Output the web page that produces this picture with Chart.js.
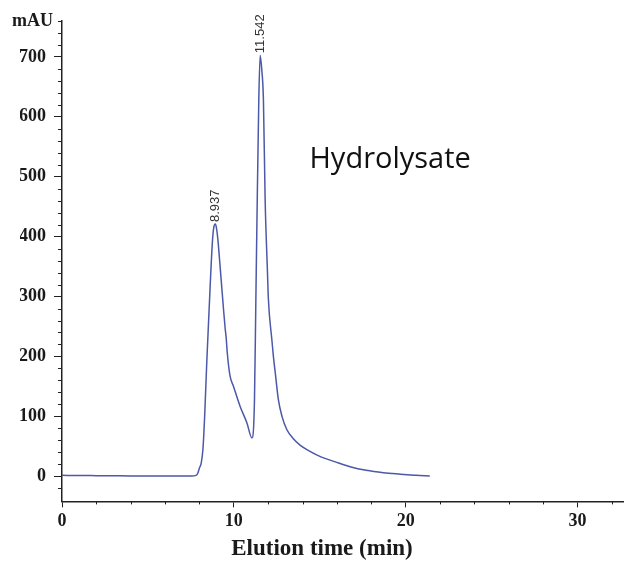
<!DOCTYPE html>
<html lang="en">
<head>
  <meta charset="UTF-8">
  <title>Hydrolysate chromatogram</title>
  <script src="https://cdn.jsdelivr.net/npm/chart.js"></script>
  <style>
    html, body { margin: 0; padding: 0; background: #fff; }
    .chart-container { width: 624px; height: 563px; }
  </style>
</head>
<body>

  <div class="chart-container">
    <canvas id="chromChart"></canvas>
  </div>

  <script>
    // retention time (min) and detector signal (mAU)
    const times = [0, 1, 2, 3, 4, 5, 6, 7, 7.5, 7.8, 7.9, 8.0, 8.1, 8.2, 8.3, 8.43, 8.62, 8.76, 8.85, 8.93,
      9.0, 9.07, 9.2, 9.4, 9.5, 9.55, 9.62, 9.78, 9.98, 10.36, 10.76, 11.05, 11.2, 11.28, 11.34, 11.45,
      11.53, 11.62, 11.72, 11.82, 11.95, 12.01, 12.21, 12.3, 12.4, 12.59, 12.8, 13.08, 13.45, 13.85,
      14.4, 15.1, 15.9, 16.76, 17.7, 18.7, 19.7, 20.6, 21.4];
    const absorbance = [1.5, 1.2, 1, 0.8, 0.6, 0.5, 0.4, 0.3, 0.5, 1.5, 5, 14, 22, 45, 100, 195, 317, 395, 418, 421,
      412, 395, 350, 278, 245, 232, 205, 167, 150, 117, 89, 64, 128, 295, 420, 628,
      703, 680, 628, 461, 345, 295, 228, 200, 175, 128, 100, 78, 63, 52,
      42, 32, 24, 16, 10, 6, 3.5, 1.5, 0.5];

    const xTicks = [0, 10, 20, 30];
    const yTicks = [0, 100, 200, 300, 400, 500, 600, 700];

    const peakTimes = [8.937, 11.542];
    const peakHeights = [421, 703];
    const peakLabels = ['8.937', '11.542'];

    const yUnitLabel = 'mAU';
    const sampleName = 'Hydrolysate';
    const xTitle = 'Elution time (min)';

    const axisColor = '#222';
    const traceColor = '#4c58a8';
    const serif = 'Liberation Serif, Times New Roman, serif';

    // minor ticks, unit label, peak labels and sample name
    const extras = {
      id: 'extras',
      afterDraw(chart) {
        const ctx = chart.ctx;
        const xs = chart.scales.x;
        const ys = chart.scales.y;
        ctx.save();
        ctx.strokeStyle = axisColor;
        ctx.lineWidth = 1;

        for (let v = -20; v <= ys.max; v += 20) {
          if (v % 100 === 0) continue;
          const py = Math.round(ys.getPixelForValue(v)) + 0.5;
          ctx.beginPath();
          ctx.moveTo(ys.right - 4, py);
          ctx.lineTo(ys.right, py);
          ctx.stroke();
        }
        for (let t = 2; t <= xs.max; t += 2) {
          if (t % 10 === 0) continue;
          const px = Math.round(xs.getPixelForValue(t)) + 0.5;
          ctx.beginPath();
          ctx.moveTo(px, xs.top);
          ctx.lineTo(px, xs.top + 3);
          ctx.stroke();
        }

        // unit label at top of y axis
        const topY = ys.getPixelForValue(ys.max);
        ctx.fillStyle = '#1a1a1a';
        ctx.font = 'bold 18px ' + serif;
        ctx.textAlign = 'right';
        ctx.textBaseline = 'middle';
        ctx.fillText(yUnitLabel, ys.right - 9, topY);

        // peak retention times, rotated
        ctx.font = '13px Liberation Sans, Arial, sans-serif';
        ctx.fillStyle = '#333';
        peakLabels.forEach((lab, i) => {
          const px = xs.getPixelForValue(peakTimes[i]);
          const py = ys.getPixelForValue(peakHeights[i]);
          ctx.save();
          ctx.translate(px, py - 2);
          ctx.rotate(-Math.PI / 2);
          ctx.textAlign = 'left';
          ctx.textBaseline = 'middle';
          ctx.fillText(lab, 0, 0);
          ctx.restore();
        });

        // sample name
        ctx.font = '29px Open Sans, sans-serif';
        ctx.fillStyle = '#111';
        ctx.textAlign = 'left';
        ctx.textBaseline = 'alphabetic';
        ctx.fillText(sampleName, xs.getPixelForValue(14.4), ys.getPixelForValue(514));
        ctx.restore();
      }
    };

    const ctx = document.getElementById('chromChart').getContext('2d');
    new Chart(ctx, {
      type: 'line',
      data: {
        datasets: [{
          data: times.map((t, i) => ({ x: t, y: absorbance[i] })),
          borderColor: traceColor,
          borderWidth: 1.5,
          pointRadius: 0,
          fill: false,
          cubicInterpolationMode: 'monotone'
        }]
      },
      options: {
        responsive: true,
        maintainAspectRatio: false,
        animation: false,
        layout: { padding: { left: 20, top: 21, right: 0, bottom: 0 } },
        plugins: {
          legend: { display: false },
          tooltip: { enabled: false },
          title: {
            display: true,
            position: 'bottom',
            text: xTitle,
            color: '#1a1a1a',
            font: { family: serif, size: 23, weight: 'bold' },
            padding: { top: 3, bottom: 0 }
          }
        },
        scales: {
          x: {
            type: 'linear',
            min: 0,
            max: 32.7,
            afterBuildTicks: scale => { scale.ticks = xTicks.map(v => ({ value: v })); },
            afterFit: scale => { scale.height = 31; },
            grid: { drawOnChartArea: false, drawTicks: true, tickLength: 6, color: axisColor, tickWidth: 1 },
            border: { display: true, color: axisColor, width: 1.5 },
            ticks: {
              autoSkip: false,
              maxRotation: 0,
              padding: 3,
              color: '#1a1a1a',
              font: { family: serif, size: 18, weight: 'bold' }
            }
          },
          y: {
            min: -42,
            max: 760,
            afterBuildTicks: scale => { scale.ticks = yTicks.map(v => ({ value: v })); },
            afterFit: scale => { scale.width = 42; },
            grid: { drawOnChartArea: false, drawTicks: true, tickLength: 8, color: axisColor, tickWidth: 1 },
            border: { display: true, color: axisColor, width: 1.5 },
            ticks: {
              padding: 8,
              color: '#1a1a1a',
              font: { family: serif, size: 18, weight: 'bold' }
            }
          }
        }
      },
      plugins: [extras]
    });
  </script>

</body>
</html>
